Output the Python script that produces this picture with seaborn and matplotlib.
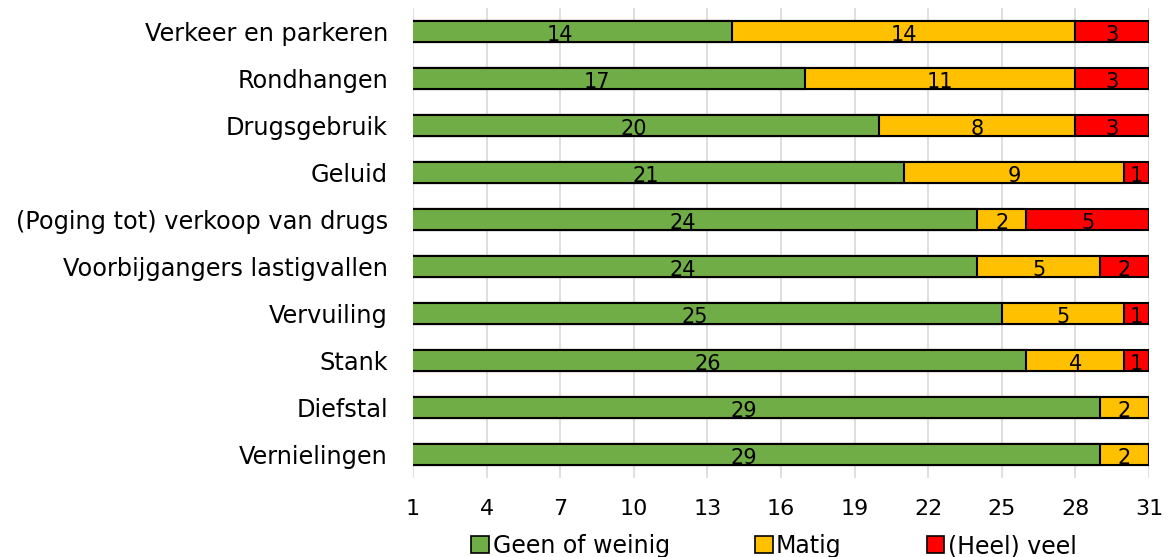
import matplotlib
matplotlib.use("Agg")
import matplotlib.pyplot as plt
import seaborn as sns
import pandas as pd
import numpy as np
from matplotlib.patches import Patch

categories = ["Verkeer en parkeren", "Rondhangen", "Drugsgebruik", "Geluid",
              "(Poging tot) verkoop van drugs", "Voorbijgangers lastigvallen",
              "Vervuiling", "Stank", "Diefstal", "Vernielingen"]
geen = [14, 17, 20, 21, 24, 24, 25, 26, 29, 29]
matig = [14, 11, 8, 9, 2, 5, 5, 4, 2, 2]
veel = [3, 3, 3, 1, 5, 2, 1, 1, 0, 0]
series_names = ["Geen of weinig", "Matig", "(Heel) veel"]
colors = ["#70AD47", "#FFC000", "#FF0000"]
xticks = [1, 4, 7, 10, 13, 16, 19, 22, 25, 28, 31]

sns.set_theme(style="white")
plt.rcParams['font.family'] = ['DejaVu Sans']
plt.rcParams['text.color'] = 'black'
plt.rcParams['xtick.color'] = 'black'
plt.rcParams['ytick.color'] = 'black'

df = pd.DataFrame({"cat": categories, "g": geen, "m": matig, "v": veel})
df["c1"] = df["g"]
df["c2"] = df["g"] + df["m"]
df["c3"] = df["c2"] + df["v"]

fig = plt.figure(figsize=(11.73, 5.57), dpi=100)
ax = fig.add_axes([0.352, 0.142, 0.6275, 0.8436])

for col, color in zip(["c3", "c2", "c1"], colors[::-1]):
    sns.barplot(data=df, y="cat", x=col, orient="h", color=color, saturation=1,
                edgecolor="black", linewidth=1.5, width=0.43, ax=ax, order=categories)

# labels
for i, row in df.iterrows():
    segs = [(0, row["g"]), (row["c1"], row["m"]), (row["c2"], row["v"])]
    for start, val in segs:
        if val > 0:
            ax.text(start + val / 2, i + 0.08, str(val), ha="center", va="center",
                    fontsize=15, color="black")

ax.set_xlim(1, 31)
ax.set_xticks(xticks)
ax.set_xticklabels([str(t) for t in xticks], fontsize=16)
ax.tick_params(axis="y", labelsize=17.3, length=0, pad=18)
ax.tick_params(axis="x", length=0, pad=15)
ax.set_xlabel("")
ax.set_ylabel("")
ax.xaxis.grid(True, color="#D9D9D9", linewidth=1.2)
ax.set_axisbelow(True)
for s in ax.spines.values():
    s.set_visible(False)

handles = [Patch(facecolor=c, edgecolor="black", linewidth=1.2, label=n)
           for c, n in zip(colors, series_names)]
fig.legend(handles=handles, loc="lower center", bbox_to_anchor=(0.66, -0.04),
           ncol=3, frameon=False, fontsize=17, handlelength=0.75, handleheight=0.75,
           handletextpad=0.15, columnspacing=3.6)

fig.savefig("out.png", dpi=100)
